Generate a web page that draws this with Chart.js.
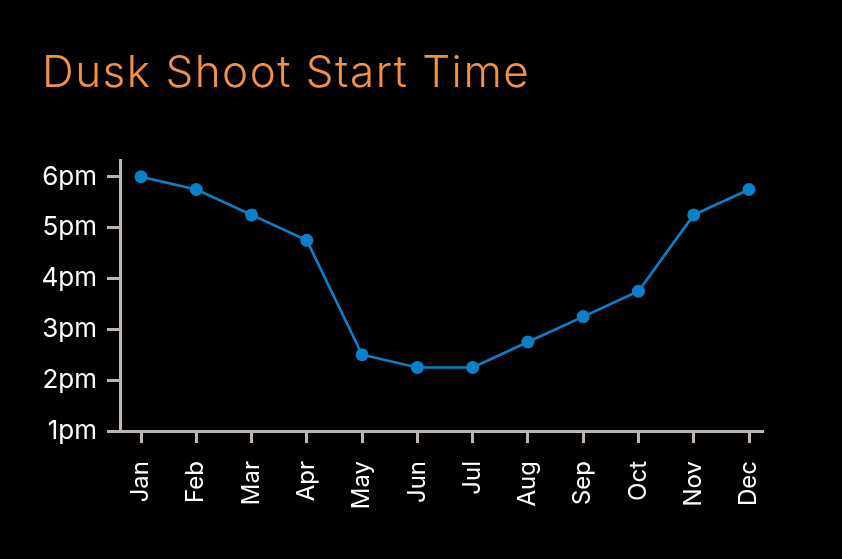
<!DOCTYPE html>
<html lang="en">
<head>
<meta charset="UTF-8" />
<title>Dusk Shoot Start Time</title>
<script src="https://cdn.jsdelivr.net/npm/chart.js"></script>
<style>
  html, body { margin: 0; padding: 0; background: #000; }
  #wrap { width: 842px; height: 559px; position: relative; }
  h1 {
    position: absolute; left: 42px; top: 49px; margin: 0;
    font: 300 44px/44px Inter, Lato, "Noto Sans", sans-serif;
    letter-spacing: 1.5px; color: #f39244; white-space: nowrap;
  }
</style>
</head>
<body>
<div id="wrap">
  <canvas id="myChart" width="842" height="559"></canvas>
  <h1>Dusk Shoot Start Time</h1>
</div>
<script>
// chart data
const months = ["Jan", "Feb", "Mar", "Apr", "May", "Jun", "Jul", "Aug", "Sep", "Oct", "Nov", "Dec"];
const startHour = [6, 5.75, 5.25, 4.75, 2.5, 2.25, 2.25, 2.75, 3.25, 3.75, 5.25, 5.75];
const hourTicks = [1, 2, 3, 4, 5, 6];
const hourLabels = ["1pm", "2pm", "3pm", "4pm", "5pm", "6pm"];

const axisColor = "#bdb5ae";
const font = "Inter, Lato, 'Noto Sans', sans-serif";

const ctx = document.getElementById("myChart").getContext("2d");
const myChart = new Chart(ctx, {
  type: "line",
  data: {
    datasets: [{
      data: startHour.map((v, i) => ({ x: i, y: v })),
      borderColor: "#0a80c8",
      backgroundColor: "#0a80c8",
      borderWidth: 2.6,
      pointRadius: 6.5,
      pointHoverRadius: 6.5,
      pointBorderWidth: 0,
      tension: 0,
      fill: false
    }]
  },
  options: {
    responsive: false,
    animation: false,
    layout: { padding: { left: 42, right: 80, top: 160, bottom: 0 } },
    plugins: {
      legend: { display: false },
      tooltip: { enabled: false }
    },
    scales: {
      x: {
        type: "linear",
        min: -0.38,
        max: 11.235,
        afterBuildTicks: (s) => { s.ticks = months.map((m, i) => ({ value: i })); },
        afterFit: (s) => { s.height = 128; },
        ticks: {
          color: "#fff",
          font: { family: font, size: 24 },
          minRotation: 90,
          maxRotation: 90,
          padding: 18,
          callback: (v) => months[v]
        },
        grid: {
          display: true,
          drawOnChartArea: false,
          color: axisColor,
          lineWidth: 3,
          tickLength: 12
        },
        border: { color: axisColor, width: 3 }
      },
      y: {
        min: 1,
        max: 6.33,
        afterBuildTicks: (s) => { s.ticks = hourTicks.map((v) => ({ value: v })); },
        afterFit: (s) => { s.width = 78; },
        ticks: {
          color: "#fff",
          font: { family: font, size: 26 },
          padding: 10,
          callback: (v) => hourLabels[hourTicks.indexOf(v)]
        },
        grid: {
          display: true,
          drawOnChartArea: false,
          color: axisColor,
          lineWidth: 3,
          tickLength: 13
        },
        border: { color: axisColor, width: 3 }
      }
    }
  }
});
</script>
</body>
</html>
